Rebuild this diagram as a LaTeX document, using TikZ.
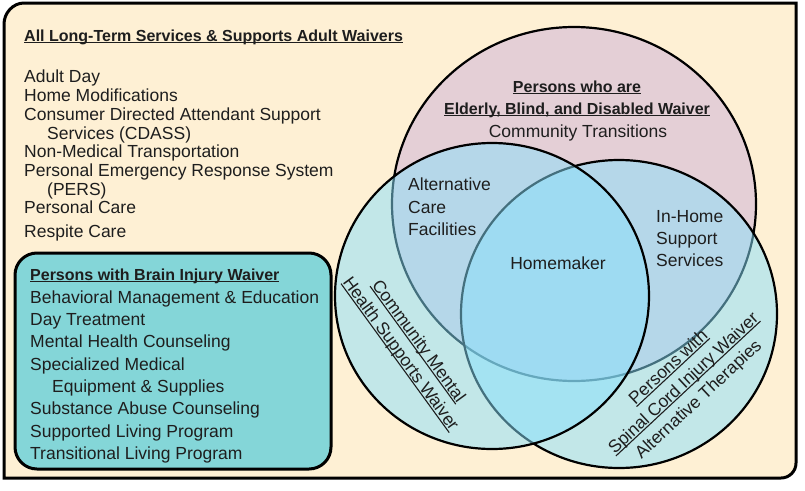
\documentclass[tikz,border=0pt]{standalone}
\usepackage{fontspec}
\setmainfont{Liberation Sans}
\definecolor{cream}{HTML}{FEF0D4}
\definecolor{pinkc}{HTML}{E4CFD6}
\definecolor{tealc}{RGB}{136,224,252}
\definecolor{boxteal}{HTML}{84D6D8}
\definecolor{txt}{HTML}{1E1E1E}
\newsavebox\ulbox
\newcommand\myul[1]{\sbox\ulbox{#1}\rlap{\rule[-2.2pt]{\wd\ulbox}{1.1pt}}\usebox\ulbox}
\tikzset{
  body/.style={font=\fontsize{17.5}{22}\selectfont, text=txt, inner sep=0pt},
  head/.style={font=\fontsize{16}{22}\selectfont\bfseries, text=txt, inner sep=0pt},
  item/.style={body, anchor=base west},
  hitem/.style={head, anchor=base west},
  frame/.style={draw=black, line width=3pt},
  ring/.style={draw=black, line width=2.2pt},
  veil/.style={ring, fill=tealc, fill opacity=0.5, draw opacity=1},
}
\begin{document}
\begin{tikzpicture}[x=1pt, y=-1pt]
\useasboundingbox (0,0) rectangle (805,490);
% outer frame
\path[frame, fill=cream] (4,478) -- (4,24) .. controls (4,13) and (13,3) .. (24,3)
  -- (796,3) -- (796,463) .. controls (796,471.3) and (789.3,478) .. (781,478) -- cycle;
% circles
\fill[pinkc] (574,204) ellipse [x radius=182, y radius=177];
\draw[ring] (574,204) ellipse [x radius=182, y radius=177];
\path[veil] (619,314) ellipse [x radius=158, y radius=154];
\path[veil] (492,296) ellipse [x radius=157, y radius=153];
% brain injury box
\draw[frame, fill=boxteal, rounded corners=22pt] (15,253) rectangle (331,469);

% general list
\node[hitem] (t0) at (24,41) {\myul{All Long-Term Services \& Supports Adult Waivers}};
\node[item] (a1) at (24,82) {Adult Day};
\node[item] (a2) at (24,101) {Home Modifications};
\node[item] (a3) at (24,120) {Consumer Directed Attendant Support};
\node[item] (a4) at (47,139) {Services (CDASS)};
\node[item] (a5) at (24,157) {Non-Medical Transportation};
\node[item] (a6) at (24,176) {Personal Emergency Response System};
\node[item] (a7) at (47,195) {(PERS)};
\node[item] (a8) at (24,213) {Personal Care};
\node[item] (a9) at (24,237) {Respite Care};

% brain injury list
\node[hitem] (b0) at (30,280) {\myul{Persons with Brain Injury Waiver}};
\node[item] (b1) at (30,303) {Behavioral Management \& Education};
\node[item] (b2) at (30,325) {Day Treatment};
\node[item] (b3) at (30,347) {Mental Health Counseling};
\node[item] (b4) at (30,370) {Specialized Medical};
\node[item] (b5) at (52,392) {Equipment \& Supplies};
\node[item] (b6) at (30,414) {Substance Abuse Counseling};
\node[item] (b7) at (30,437) {Supported Living Program};
\node[item] (b8) at (30,459) {Transitional Living Program};

% Venn labels
\node[head, anchor=base] (e1) at (577,92) {\myul{Persons who are}};
\node[head, anchor=base] (e2) at (577,114) {\myul{Elderly, Blind, and Disabled Waiver}};
\node[body, anchor=base] (e3) at (578,137) {Community Transitions};
\node[item] (f1) at (408,190) {Alternative};
\node[item] (f2) at (408,213) {Care};
\node[item] (f3) at (408,235) {Facilities};
\node[body, anchor=base] (hm) at (558,269) {Homemaker};
\node[item] (h1) at (656,222) {In-Home};
\node[item] (h2) at (656,244) {Support};
\node[item] (h3) at (656,266) {Services};
\node[body, align=center, rotate=-54] (cm) at (409,348)
  {\myul{Community Mental}\\\myul{Health Supports Waiver}};
\node[body, align=center, rotate=43] (sc) at (684,384)
  {\myul{Persons with}\\\myul{Spinal Cord Injury Waiver}\\Alternative Therapies};
\end{tikzpicture}
\end{document}
